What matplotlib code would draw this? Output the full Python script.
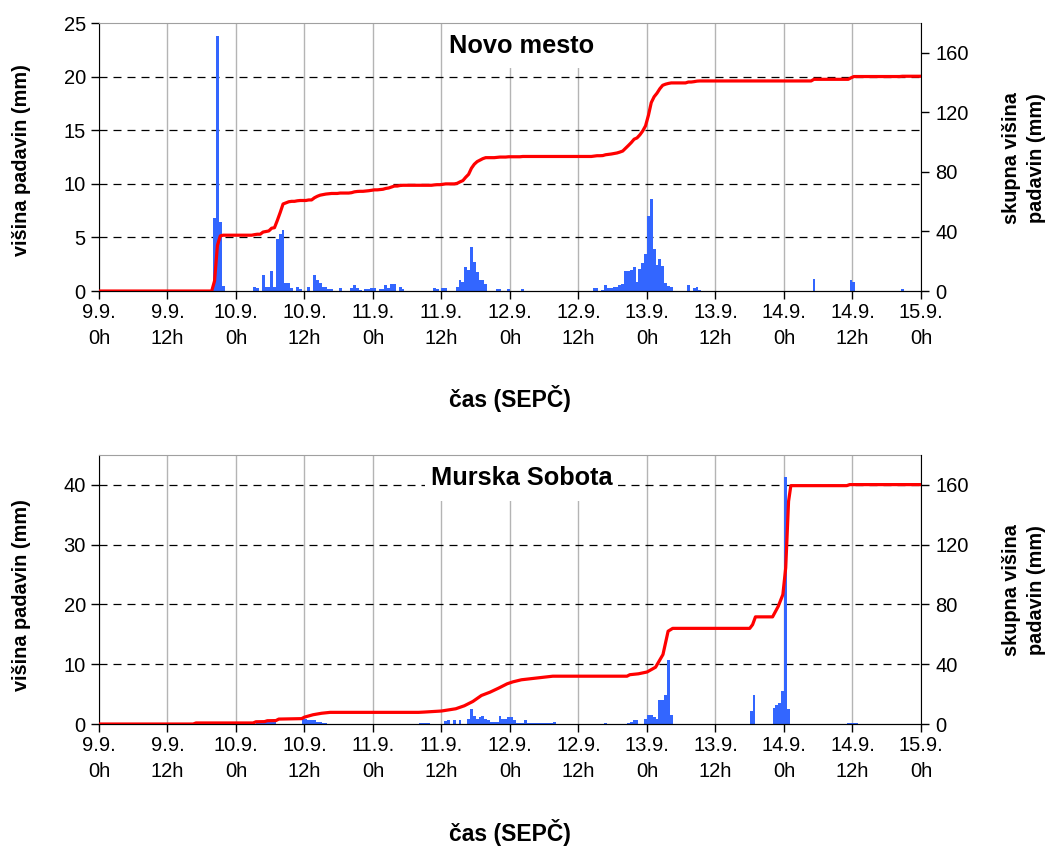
import numpy as np
import matplotlib
matplotlib.use('Agg')
import matplotlib.pyplot as plt
from matplotlib.patches import Rectangle

plt.rcParams['font.family'] = ['Liberation Sans', 'DejaVu Sans']

# polurne padavine (indeks polure od 9.9. 0h, mm)
nm_idx = [40, 41, 42, 43,
          54, 55, 57, 58, 59, 60, 61, 62, 63, 64, 65, 66, 67,
          69, 70, 73, 75, 76, 77, 78, 79, 80, 81, 84, 88, 89, 90, 91, 93, 94, 95, 96,
          98, 99, 100, 101, 102, 103, 105, 106, 117, 118, 120, 121,
          125, 126, 127, 128, 129, 130, 131, 132, 133, 134, 135, 139, 140, 143, 148,
          173, 174, 176, 177, 178, 179, 180, 181, 182, 183, 184, 185, 186, 187, 188,
          189, 190, 191, 192, 193, 194, 195, 196, 197, 198, 199, 200,
          206, 208, 209, 210, 250, 263, 264, 281]
nm_val = [6.8, 23.8, 6.4, 0.5,
          0.37, 0.28, 1.46, 0.37, 0.37, 1.84, 0.37, 4.9, 5.3, 5.7, 0.75, 0.75, 0.28,
          0.37, 0.2, 0.37, 1.46, 1.0, 0.75, 0.37, 0.37, 0.2, 0.2, 0.28, 0.25, 0.56, 0.25, 0.1, 0.2, 0.2, 0.3, 0.28,
          0.2, 0.2, 0.56, 0.3, 0.65, 0.65, 0.37, 0.15, 0.25, 0.15, 0.25, 0.28,
          0.37, 1.0, 0.85, 2.25, 1.95, 4.1, 2.7, 1.75, 1.0, 1.0, 0.65, 0.2, 0.2, 0.2, 0.2,
          0.25, 0.25, 0.1, 0.55, 0.25, 0.25, 0.35, 0.35, 0.6, 0.7, 1.85, 1.9, 1.95, 2.25, 0.85,
          2.05, 2.6, 3.5, 7.0, 8.6, 3.9, 2.4, 3.0, 2.3, 0.75, 0.5, 0.35,
          0.6, 0.25, 0.35, 0.12, 1.1, 1.03, 0.84, 0.19]

ms_idx = [55, 56, 57, 58, 59, 60, 61, 71, 72, 73, 74, 75, 76, 77, 78, 79,
          112, 113, 114, 115, 121, 122, 124, 126, 129, 130, 131, 132, 133, 134, 135, 136,
          137, 138, 139, 140, 141, 142, 143, 144, 145, 146, 147, 148, 149,
          150, 151, 152, 153, 154, 155, 156, 157, 158, 159, 177, 185, 186, 187, 188,
          191, 192, 193, 194, 195, 196, 197, 198, 199, 200,
          228, 229, 236, 237, 238, 239, 240, 241, 262, 263, 264, 265]
ms_val = [0.2, 0.2, 0.4, 0.4, 0.4, 0.4, 0.4, 0.8, 0.8, 0.67, 0.67, 0.67, 0.4, 0.4, 0.17, 0.17,
          0.17, 0.17, 0.17, 0.17, 0.45, 0.6, 0.6, 0.6, 0.84, 2.5, 1.3, 0.84, 1.1, 1.3, 0.84, 0.6,
          0.34, 0.34, 0.34, 1.3, 0.8, 0.8, 1.1, 1.1, 0.6, 0.1, 0.1, 0.1, 0.6,
          0.17, 0.17, 0.17, 0.17, 0.17, 0.17, 0.17, 0.17, 0.17, 0.34, 0.17, 0.17, 0.4, 0.72, 0.72,
          0.78, 1.5, 1.5, 1.1, 0.78, 4.0, 4.0, 4.8, 10.7, 1.5,
          2.15, 4.8, 2.6, 3.15, 3.5, 5.6, 41.3, 2.5, 0.1, 0.1, 0.1, 0.1]

# skupna visina Murska Sobota, odcitano s krivulje (ura, mm)
ms_cum_h = [0, 16.5, 17.0, 27.0, 27.5, 29.0, 29.5, 31.0, 31.5, 35.5, 36.0, 37.5, 39.0, 40.5,
            56.0, 57.0, 60.0, 61.5, 62.5, 64.0, 65.5, 67.0, 68.5, 70.0, 71.5, 72.5, 74.0,
            76.5, 79.5, 92.5, 93.0, 94.5, 96.0, 97.5, 98.8, 99.7, 100.5, 114.0, 114.5, 115.0,
            118.0, 119.0, 119.8, 120.3, 120.8, 121.2, 131.0, 131.5, 144.0]
ms_cum = [0, 0, 0.7, 0.7, 1.5, 1.6, 2.2, 2.3, 3.3, 3.6, 4.6, 6.2, 7.2, 7.8,
          7.8, 8.0, 8.7, 9.6, 10.2, 12.2, 15.1, 19.1, 21.3, 24.0, 26.9, 28.2, 29.6,
          30.7, 32.0, 32.0, 33.0, 33.6, 34.8, 38.0, 46.5, 62.1, 64.0, 64.0, 66.5, 71.7,
          71.7, 78.8, 86.6, 104.5, 149.0, 159.5, 159.5, 160.2, 160.2]

n = 288
nm = np.zeros(n)
nm[nm_idx] = nm_val
ms = np.zeros(n)
ms[ms_idx] = ms_val
hours = np.arange(n) * 0.5

xt = np.arange(0, 145, 12)
xlab = ['%d.9.\n%dh' % (9 + h // 24, h % 24) for h in xt]

fig = plt.figure(figsize=(10.46, 8.47), dpi=100)

def panel(rect, bars, lx, ly, ymax, yticks, title, tbox):
    ax = fig.add_axes(rect)
    ax.set_axisbelow(True)
    ax.bar(hours, bars, width=0.5, align='edge', color='#3366ff', linewidth=0, zorder=1)
    ax.set_xlim(0, 144)
    ax.set_ylim(0, ymax)
    ax.set_yticks(yticks)
    ax.set_xticks(xt)
    ax.set_xticklabels(xlab, linespacing=1.45)
    ax.tick_params(axis='both', direction='out', labelsize=14.5, length=6, width=1)
    ax.tick_params(axis='x', pad=2.5)
    ax.xaxis.grid(True, color='#b4b4b4', lw=1.0)
    ax.yaxis.grid(True, color='black', lw=0.9, linestyle=(0, (6.4, 4.8)))
    for t, g in zip(yticks, ax.get_ygridlines()):
        if t == 0 or t >= ymax:
            g.set_visible(False)
    ax.spines['top'].set_color('#a0a0a0')
    ax.spines['right'].set_visible(False)
    ax.add_patch(Rectangle((tbox[0], tbox[1]), tbox[2], 1 - tbox[1], transform=ax.transAxes,
                           facecolor='white', edgecolor='none', zorder=1.5))
    ax.text((tbox[0] + tbox[0] + tbox[2]) / 2, (1 + tbox[1]) / 2, title, transform=ax.transAxes,
            ha='center', va='center', fontsize=18.3, fontweight='bold', zorder=3)
    ax2 = ax.twinx()
    ax2.plot(lx, ly, color='#ff0000', lw=2.3, solid_joinstyle='round')
    ax2.set_ylim(0, 180)
    ax2.set_yticks([0, 40, 80, 120, 160])
    ax2.tick_params(axis='y', direction='out', labelsize=14.5, length=6, width=1, pad=4.5)
    ax2.spines['top'].set_visible(False)
    ax2.spines['left'].set_visible(False)
    return ax, ax2

panel([0.0946, 0.6564, 0.7859, 0.3164], nm, hours + 0.25, np.cumsum(nm), 25,
      [0, 5, 10, 15, 20, 25], 'Novo mesto', (0.42, 0.832, 0.187))
panel([0.0946, 0.1452, 0.7859, 0.3176], ms, ms_cum_h, ms_cum, 45,
      [0, 10, 20, 30, 40], 'Murska Sobota', (0.397, 0.829, 0.235))

lab = dict(fontsize=14.3, fontweight='bold', ha='center', va='center')
fig.text(0.021, 0.811, 'višina padavin (mm)', rotation=90, **lab)
fig.text(0.021, 0.298, 'višina padavin (mm)', rotation=90, **lab)
fig.text(0.979, 0.813, 'skupna višina\npadavin (mm)', rotation=90, linespacing=1.45, **lab)
fig.text(0.979, 0.303, 'skupna višina\npadavin (mm)', rotation=90, linespacing=1.45, **lab)
fig.text(0.4876, 0.529, 'čas (SEPČ)', fontsize=16.5, fontweight='bold', ha='center', va='center')
fig.text(0.4876, 0.0177, 'čas (SEPČ)', fontsize=16.5, fontweight='bold', ha='center', va='center')

fig.savefig('out.png', dpi=100)
